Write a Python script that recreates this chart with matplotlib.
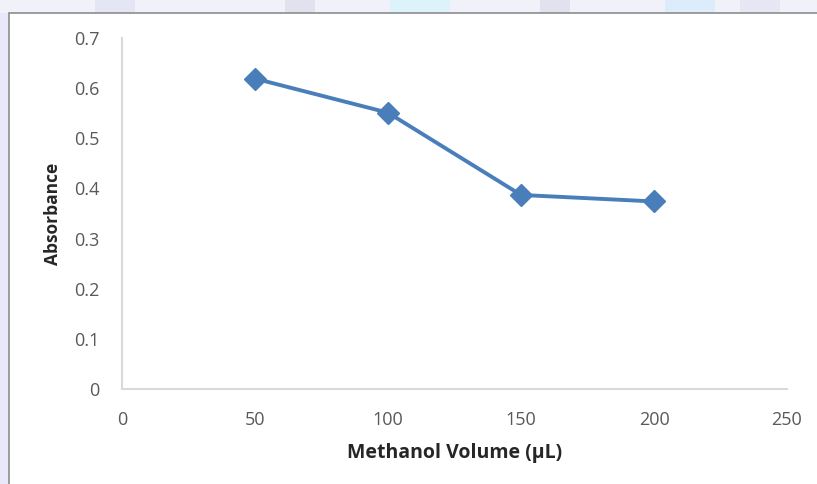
import matplotlib
matplotlib.use("Agg")
import matplotlib.pyplot as plt
from matplotlib.patches import Rectangle

plt.rcParams['font.family'] = ['Open Sans', 'DejaVu Sans']

methanol_volume = [50, 100, 150, 200]
absorbance = [0.619, 0.551, 0.387, 0.374]
x_ticks = [0, 50, 100, 150, 200, 250]
y_ticks = [0, 0.1, 0.2, 0.3, 0.4, 0.5, 0.6, 0.7]
y_tick_labels = ['0', '0.1', '0.2', '0.3', '0.4', '0.5', '0.6', '0.7']

W, H = 817, 484
fig = plt.figure(figsize=(W / 100, H / 100), dpi=100)
fig.patch.set_facecolor('white')

# faint background outside the chart frame
fig.patches.append(Rectangle((0, 0), 8.5 / W, 1, transform=fig.transFigure,
                             facecolor='#e9e8f8', edgecolor='none', zorder=-3))
fig.patches.append(Rectangle((0, 1 - 12.5 / H), 1, 12.5 / H, transform=fig.transFigure,
                             facecolor='#f1f1fa', edgecolor='none', zorder=-3))
for x0, w, c in [(95, 40, '#e4e6f6'), (285, 30, '#e2e2ee'), (390, 60, '#ddf3fb'),
                 (540, 30, '#e2e2ee'), (665, 50, '#dcecfa'), (740, 40, '#e6e6f4')]:
    fig.patches.append(Rectangle((x0 / W, 1 - 12.5 / H), w / W, 12.5 / H,
                                 transform=fig.transFigure, facecolor=c,
                                 edgecolor='none', zorder=-2))
# chart frame
fig.patches.append(Rectangle((8.5 / W, -0.1), 1, 1.1 - 12.5 / H, transform=fig.transFigure,
                             facecolor='white', edgecolor='#8c8c8c', linewidth=1.2, zorder=-1))

left, right = 122 / W, 787 / W
bottom, top = 1 - 389 / H, 1 - 38 / H
ax = fig.add_axes([left, bottom, right - left, top - bottom])
ax.set_facecolor('none')

ax.plot(methanol_volume, absorbance, color='#4a7ebb', linewidth=2.8,
        marker='D', markersize=11.5, markerfacecolor='#4a7ebb',
        markeredgecolor='#4a7ebb', zorder=3)

ax.set_xlim(0, 250)
ax.set_ylim(0, 0.7)
ax.set_xticks(x_ticks)
ax.set_xticklabels([str(t) for t in x_ticks])
ax.set_yticks(y_ticks)
ax.set_yticklabels(y_tick_labels)

for s in ['top', 'right']:
    ax.spines[s].set_visible(False)
for s in ['left', 'bottom']:
    ax.spines[s].set_color('#d9d9d9')
    ax.spines[s].set_linewidth(1.5)

ax.tick_params(axis='both', length=0, labelsize=13, labelcolor='#595959')
ax.tick_params(axis='x', pad=16)
ax.tick_params(axis='y', pad=16)

ax.set_xlabel('Methanol Volume (µL)', fontsize=14, fontweight='bold',
              color='#262626', labelpad=10)
ax.set_ylabel('Absorbance', fontsize=12.5, fontweight='bold', color='#262626', labelpad=9)

fig.savefig('out.png', dpi=100, facecolor=fig.get_facecolor())
